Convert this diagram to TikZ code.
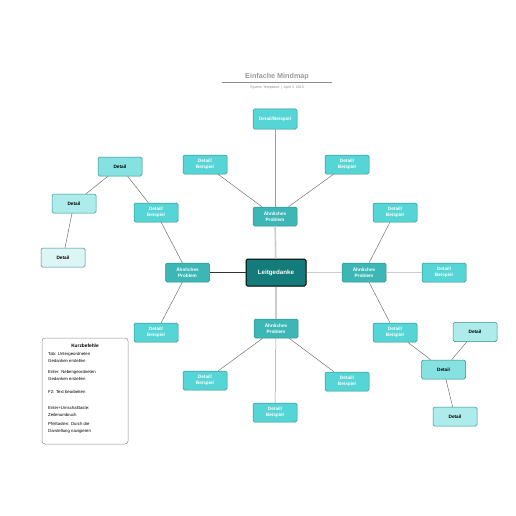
\documentclass[tikz,border=0pt]{standalone}
\usepackage{fontspec}
\setmainfont{Liberation Sans}
\definecolor{kern}{HTML}{137B7A}
\definecolor{problem}{HTML}{3CB7B6}
\definecolor{beispiel}{HTML}{56D5D6}
\definecolor{detaila}{HTML}{86E1E1}
\definecolor{detailb}{HTML}{AEEBEB}
\definecolor{detailc}{HTML}{DDF5F5}
\definecolor{rand}{HTML}{2E8F8E}
\begin{document}
\begin{tikzpicture}[x=1pt, y=-1pt,
    box/.style={rectangle, rounded corners=1.5pt, draw=rand, line width=0.5pt,
      minimum width=44pt, minimum height=19pt, inner sep=0pt, align=center,
      font=\fontsize{4.7}{6}\selectfont\bfseries},
    kernbox/.style={box, fill=kern, draw=black, line width=1pt, text=white,
      minimum width=60pt, minimum height=27pt, font=\fontsize{6.2}{7}\selectfont\bfseries},
    problembox/.style={box, fill=problem, text=white},
    beispielbox/.style={box, fill=beispiel, text=white},
    detailbox/.style={box, fill=#1, text=black},
    stamm/.style={draw=black!80, line width=0.8pt},
    ast/.style={draw=black!20, line width=1.6pt},
    zweig/.style={draw=black!55, line width=0.5pt}]
  \useasboundingbox (0,0) rectangle (516,516);

  % Titel
  \node[text=black!40, font=\fontsize{7.2}{8}\selectfont\bfseries] (titel) at (277,77) {Einfache Mindmap};
  \draw[black!45, line width=0.5pt] (222,82.5) -- (332,82.5);
  \node[text=black!45, font=\fontsize{3.6}{4}\selectfont] (info) at (277,88)
    {System Templates \,\textbar\, April 3, 2015};

  % Knoten
  \node[kernbox] (kern) at (276,272.5) {Leitgedanke};

  \node[problembox] (p-oben) at (275,216.5) {Ähnliches\\Problem};
  \node[problembox] (p-links) at (187.5,272.5) {Ähnliches\\Problem};
  \node[problembox] (p-unten) at (276,328.5) {Ähnliches\\Problem};
  \node[problembox] (p-rechts) at (364,272.5) {Ähnliches\\Problem};

  \node[beispielbox, minimum height=20pt] (b-oben) at (275,119) {Detail/Beispiel};
  \node[beispielbox] (b-oben-l) at (205,164.5) {Detail/\\Beispiel};
  \node[beispielbox] (b-oben-r) at (347,164.5) {Detail/\\Beispiel};
  \node[beispielbox] (b-links-o) at (156,212.5) {Detail/\\Beispiel};
  \node[beispielbox] (b-links-u) at (156,332.5) {Detail/\\Beispiel};
  \node[beispielbox] (b-unten-l) at (205,380.5) {Detail/\\Beispiel};
  \node[beispielbox] (b-unten-r) at (347,381.5) {Detail/\\Beispiel};
  \node[beispielbox] (b-unten) at (275,412.5) {Detail/\\Beispiel};
  \node[beispielbox] (b-rechts-o) at (395,212.5) {Detail/\\Beispiel};
  \node[beispielbox] (b-rechts) at (444,272.5) {Detail/\\Beispiel};
  \node[beispielbox] (b-rechts-u) at (395,332.5) {Detail/\\Beispiel};

  \node[detailbox=detaila] (d-l1) at (120,166.5) {Detail};
  \node[detailbox=detailb] (d-l2) at (74,203.5) {Detail};
  \node[detailbox=detailc] (d-l3) at (63,257.5) {Detail};
  \node[detailbox=detaila] (d-r1) at (443.5,369.5) {Detail};
  \node[detailbox=detailb] (d-r2) at (475,332) {Detail};
  \node[detailbox=detailb] (d-r3) at (455,416.5) {Detail};

  % Verbindungen
  \draw[stamm] (kern) -- (p-links);
  \draw[ast] (kern) -- (p-oben);
  \draw[ast] (kern) -- (p-unten);
  \draw[ast] (kern) -- (p-rechts);
  \draw[ast] (p-rechts) -- (b-rechts);
  \draw[zweig, black!40] (p-oben) -- (b-oben);
  \draw[zweig, black!40] (p-unten) -- (b-unten);
  \foreach \von/\nach in {p-oben/b-oben-l, p-oben/b-oben-r, p-links/b-links-o,
      p-links/b-links-u, p-unten/b-unten-l, p-unten/b-unten-r,
      p-rechts/b-rechts-o, p-rechts/b-rechts-u, b-links-o/d-l1, d-l1/d-l2,
      d-l2/d-l3, b-rechts-u/d-r1, d-r1/d-r2, d-r1/d-r3}
    \draw[zweig] (\von) -- (\nach);

  % Kurzbefehle
  \node[rectangle, rounded corners=3pt, draw=black!45, line width=0.5pt,
    minimum width=86pt, minimum height=106pt] (legende) at (85,391) {};
  \node[font=\fontsize{4.8}{5}\selectfont\bfseries] (legende-titel) at (85,345.5) {Kurzbefehle};
  \node[anchor=north west, align=left, inner sep=0pt,
    font=\fontsize{4.3}{7}\selectfont] (legende-text) at (48,352)
    {Tab: Untergeordneten\\Gedanken erstellen\\[4pt]
     Enter: Nebengeordneten\\Gedanken erstellen\\[6pt]
     F2: Text bearbeiten\\[9pt]
     Enter+Umschalttaste:\\Zeilenumbruch\\[2pt]
     Pfeiltasten: Durch die\\Darstellung navigieren};
\end{tikzpicture}
\end{document}
